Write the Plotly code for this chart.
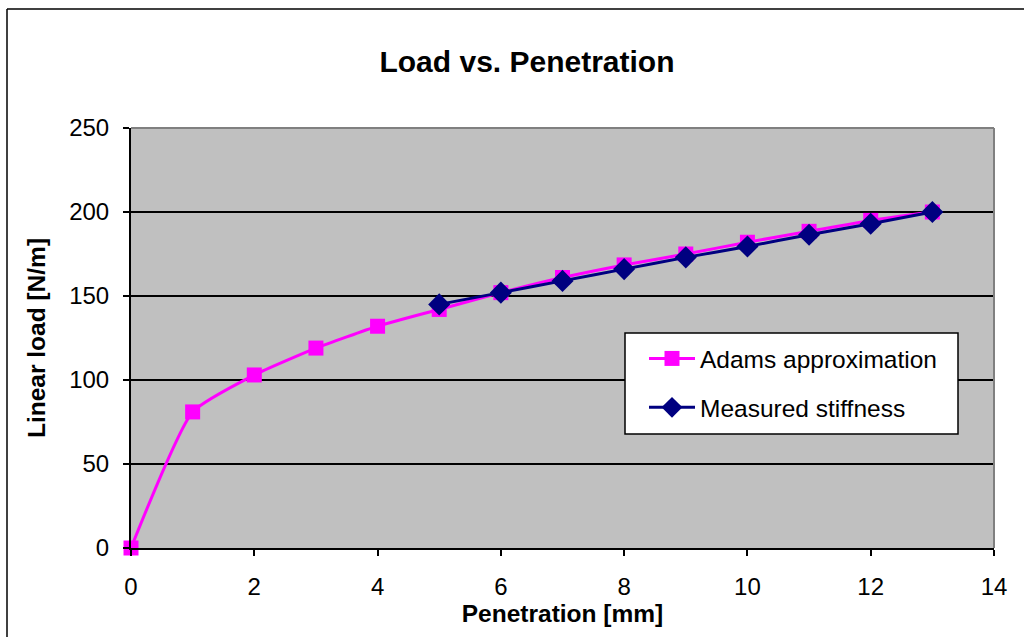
import plotly.graph_objects as go

# Data
adams_x = [0, 1, 2, 3, 4, 5, 6, 7, 8, 9, 10, 11, 12, 13]
adams_y = [0, 81, 103, 119, 132, 142, 152, 161, 168.5, 175, 182, 188.5, 195, 200]
meas_x = [5, 6, 7, 8, 9, 10, 11, 12, 13]
meas_y = [145, 152, 159, 166, 173, 179.5, 186.5, 193, 200]

FONT = "Liberation Sans, Arial, sans-serif"

fig = go.Figure()
fig.add_trace(go.Scatter(
    x=adams_x, y=adams_y, mode="lines+markers", name="Adams approximation",
    line=dict(color="#FF00FF", width=3, shape="spline", smoothing=0.5),
    marker=dict(symbol="square", size=15, color="#FF00FF"),
    legendgroup="a", cliponaxis=False,
))
fig.add_trace(go.Scatter(
    x=meas_x, y=meas_y, mode="lines+markers", name="Measured stiffness",
    line=dict(color="#000080", width=3, shape="spline", smoothing=0.5),
    marker=dict(symbol="diamond", size=17, color="#000080"),
    legendgroup="b", cliponaxis=False,
))

L, R, T, B = 131, 30, 128, 89
W, H = 1024, 637
pw, ph = W - L - R, H - T - B


def px(xp):
    return (xp - L) / pw


def py(yp):
    return (H - B - yp) / ph


fig.update_layout(
    width=W, height=H,
    margin=dict(l=L, r=R, t=T, b=B, autoexpand=False),
    paper_bgcolor="white",
    plot_bgcolor="#C0C0C0",
    font=dict(family=FONT, color="black", size=24),
    title=dict(text="<b>Load vs. Penetration</b>", x=527 / W, xanchor="center",
               y=1 - 61 / H, yanchor="middle", yref="container",
               font=dict(family=FONT, size=30, color="black")),
    xaxis=dict(range=[0, 14], dtick=2, tick0=0, showgrid=False, zeroline=False,
               showline=True, linecolor="black", linewidth=2, automargin=False,
               ticks="outside", ticklen=6, tickwidth=2, tickcolor="black",
               ticklabelstandoff=10,
               tickfont=dict(family=FONT, size=24),
               title=dict(text="<b>Penetration [mm]</b>", standoff=4,
                          font=dict(family=FONT, size=24.5))),
    yaxis=dict(range=[0, 250], dtick=50, tick0=0, showgrid=True, gridcolor="black",
               gridwidth=1.5, zeroline=False, automargin=False,
               showline=True, linecolor="black", linewidth=2,
               ticks="outside", ticklen=6, tickwidth=2, tickcolor="black",
               ticklabelstandoff=9,
               tickfont=dict(family=FONT, size=24),
               title=dict(text="<b>Linear load [N/m]</b>", standoff=17,
                          font=dict(family=FONT, size=24.5))),
    legend=dict(x=px(644), y=py(336), xanchor="left", yanchor="top",
                bgcolor="rgba(0,0,0,0)", borderwidth=0,
                font=dict(family=FONT, size=24.5, color="black"),
                tracegroupgap=14, itemwidth=46),
    showlegend=True,
    shapes=[
        # plot-area top/right border (gray)
        dict(type="line", xref="paper", yref="paper", x0=0, x1=1, y0=1, y1=1,
             line=dict(color="#808080", width=2)),
        dict(type="line", xref="paper", yref="paper", x0=1, x1=1, y0=0, y1=1,
             line=dict(color="#808080", width=2)),
        # legend box
        dict(type="rect", xref="paper", yref="paper", layer="above",
             x0=px(625), x1=px(958), y0=py(434), y1=py(333),
             fillcolor="white", line=dict(color="black", width=1.5)),
        # chart outer border (left and top)
        dict(type="line", xref="paper", yref="paper",
             x0=px(7), x1=px(7), y0=py(9), y1=py(660),
             line=dict(color="black", width=1.5)),
        dict(type="line", xref="paper", yref="paper",
             x0=px(7), x1=px(1040), y0=py(9), y1=py(9),
             line=dict(color="black", width=1.5)),
    ],
)

fig.write_html("out.html")
